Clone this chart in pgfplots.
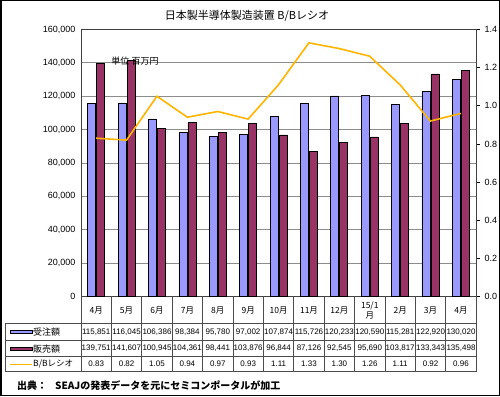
\documentclass[border=0pt]{standalone}
\usepackage{fontspec}
\setmainfont{Liberation Sans}
\newfontfamily\cjk{Noto Sans CJK JP}
\usepackage{pgfplots}
\pgfplotsset{compat=1.18}
\definecolor{bara}{HTML}{9999FF}
\definecolor{barb}{HTML}{993366}
\definecolor{bbline}{HTML}{FFB400}
\definecolor{gridc}{HTML}{8C8C8C}
\begin{document}
\begin{tikzpicture}[x=1pt,y=1pt]
\useasboundingbox (0,0) rectangle (500,396);
\fill[white] (0,0) rectangle (500,396);
% bars, left axis
\begin{axis}[
  at={(81pt,99.5pt)}, anchor=south west,
  scale only axis, width=395pt, height=267pt,
  xmin=-0.5, xmax=12.5, ymin=0, ymax=160000,
  ybar=1pt, bar width=8pt,
  xtick=\empty,
  ytick={0,20000,40000,60000,80000,100000,120000,140000,160000},
  scaled y ticks=false,
  ymajorgrids, grid style={gridc, line width=0.9pt},
  yticklabel style={font=\fontsize{9}{10}\selectfont, xshift=-2pt},
  yticklabel={\pgfmathprintnumber[fixed,1000 sep={,},assume math mode=true]{\tick}},
  ytick style={draw=none},
  axis line style={black!75, line width=0.8pt},
  clip=false,
]
\addplot[fill=bara, draw=black, line width=0.6pt] coordinates {
 (0,115851) (1,116045) (2,106386) (3,98384) (4,95780) (5,97002) (6,107874)
 (7,115726) (8,120233) (9,120590) (10,115281) (11,122920) (12,130020)};
\addplot[fill=barb, draw=black, line width=0.6pt] coordinates {
 (0,139751) (1,141607) (2,100945) (3,104361) (4,98441) (5,103876) (6,96844)
 (7,87126) (8,92545) (9,95690) (10,103817) (11,133343) (12,135498)};
\end{axis}
% ratio, right axis
\begin{axis}[
  at={(81pt,99.5pt)}, anchor=south west,
  scale only axis, width=395pt, height=267pt,
  xmin=-0.5, xmax=12.5, ymin=0, ymax=1.4,
  axis x line=none, axis y line*=right,
  ytick={0,0.2,0.4,0.6,0.8,1.0,1.2,1.4},
  yticklabel={\pgfmathprintnumber[fixed,fixed zerofill,precision=1,assume math mode=true]{\tick}},
  yticklabel style={font=\fontsize{9}{10}\selectfont, xshift=1pt},
  tick align=outside, major tick length=4pt,
  ytick style={black, line width=0.8pt},
  axis line style={black!75, line width=0.8pt},
]
\addplot[color=bbline, line width=1.6pt, mark=none] coordinates {
 (0,0.83) (1,0.82) (2,1.05) (3,0.94) (4,0.97) (5,0.93) (6,1.11)
 (7,1.33) (8,1.30) (9,1.26) (10,1.11) (11,0.92) (12,0.96)};
\end{axis}
% title and note
\node[font=\cjk\fontsize{11}{13}\selectfont] at (247,380) {日本製半導体製造装置 B/Bレシオ};
\node[font=\cjk\fontsize{9}{11}\selectfont] at (135,335) {単位 百万円};
% data table
\begin{scope}[draw=black!70, line width=0.7pt]
\foreach \k in {0,...,13} \draw (81+30.4*\k,99.5) -- (81+30.4*\k,24.3);
\draw (5,73) -- (5,24.3);
\draw (5,73) -- (476,73);
\draw (5,55.3) -- (476,55.3);
\draw (5,39.3) -- (476,39.3);
\draw (5,24.3) -- (476,24.3);
\end{scope}
\foreach \c [count=\i from 0] in {4月,5月,6月,7月,8月,9月,10月,11月,12月,{15/1\\月},2月,3月,4月}
  \node[font=\cjk\fontsize{8.5}{10}\selectfont, align=center] at (96.2+30.4*\i,86) {\c};
\foreach \v [count=\i from 0] in {115851,116045,106386,98384,95780,97002,107874,115726,120233,120590,115281,122920,130020}
  \node[font=\fontsize{8}{9}\selectfont, inner sep=0pt] at (96.2+30.4*\i,64.2) {\pgfmathprintnumber[fixed,1000 sep={,},assume math mode=true]{\v}};
\foreach \v [count=\i from 0] in {139751,141607,100945,104361,98441,103876,96844,87126,92545,95690,103817,133343,135498}
  \node[font=\fontsize{8}{9}\selectfont, inner sep=0pt] at (96.2+30.4*\i,47.3) {\pgfmathprintnumber[fixed,1000 sep={,},assume math mode=true]{\v}};
\foreach \v [count=\i from 0] in {0.83,0.82,1.05,0.94,0.97,0.93,1.11,1.33,1.30,1.26,1.11,0.92,0.96}
  \node[font=\fontsize{8}{9}\selectfont, inner sep=0pt] at (96.2+30.4*\i,31.8) {\pgfmathprintnumber[fixed,fixed zerofill,precision=2,assume math mode=true]{\v}};
% legend keys
\draw[fill=bara, draw=black, line width=0.6pt] (10,62.4) rectangle (32,66);
\draw[fill=barb, draw=black, line width=0.6pt] (10,45.5) rectangle (32,49.1);
\draw[bbline, line width=1pt] (10,31.8) -- (32,31.8);
\node[font=\cjk\fontsize{9}{10}\selectfont, anchor=west, inner sep=0pt] at (33,64.2) {受注額};
\node[font=\cjk\fontsize{9}{10}\selectfont, anchor=west, inner sep=0pt] at (33,47.3) {販売額};
\node[font=\cjk\fontsize{8.5}{10}\selectfont, anchor=west, inner sep=0pt] at (33,31.8) {B/Bレシオ};
% source
\node[font=\cjk\bfseries\fontsize{10}{12}\selectfont, anchor=west, inner sep=0pt] at (17,10) {出典：\hspace{8pt}SEAJの発表データを元にセミコンポータルが加工};
% frame
\draw[black, line width=1.5pt] (0.75,0.75) rectangle (499.25,395.25);
\end{tikzpicture}
\end{document}
